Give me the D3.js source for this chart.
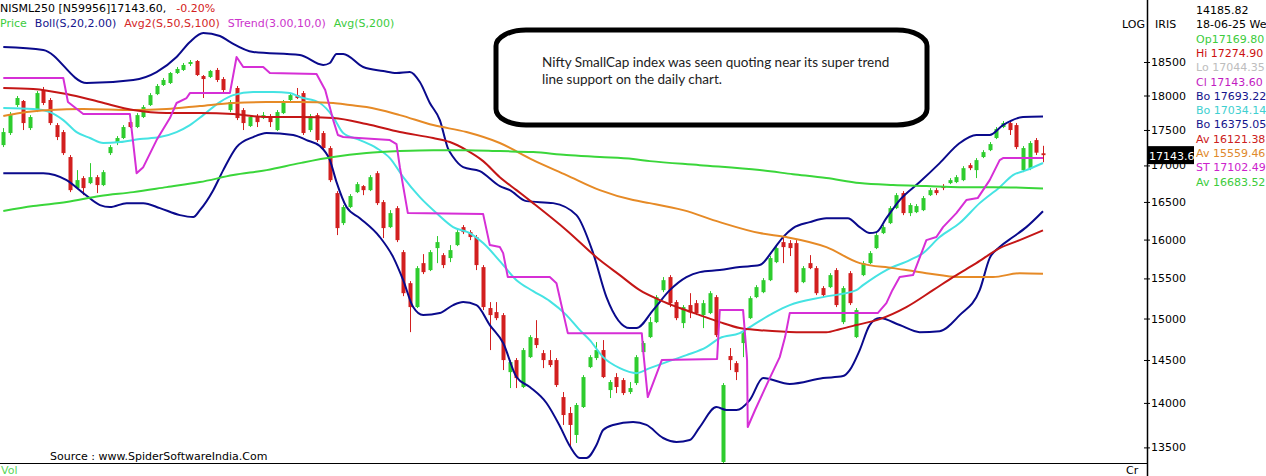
<!DOCTYPE html>
<html>
<head>
<meta charset="utf-8">
<script src="https://cdn.jsdelivr.net/npm/d3@7"></script>
<style>
  body { margin: 0; background: #fff; overflow: hidden; }
  svg { display: block; font-family: "DejaVu Sans", sans-serif; font-size: 11px; }
</style>
</head>
<body>
<svg id="chart" width="1266" height="476"></svg>
<script>
// Daily OHLC bars, NISML250
const opens = [17285,17456,17860,17919,17527,17787,18081,17934,17570,17470,17117,16688,16825,16756,16838,16729,17172,17314,17385,17613,
  17542,17686,17860,18021,18155,18185,18334,18380,18470,18515,18289,18274,18380,18244,17787,18111,17787,17556,17700,17671,
  17700,17499,17743,17934,18006,18036,17499,17714,17456,17243,16620,16217,16431,16633,16715,16660,16893,16498,16164,16417,
  15837,15440,15141,15695,15606,15889,15798,15760,15928,16164,16098,16033,15644,15129,15079,15042,14357,14499,14183,14534,
  14762,14582,14499,14499,14067,13885,13638,13953,14416,14523,14618,14148,14299,14264,14125,14229,14594,14774,14956,15352,
  15517,15203,14944,15166,15190,15042,15067,15265,13340,14547,14463,14702,15005,15265,15327,15478,15708,15967,15954,15954,
  15453,15695,15631,15378,15390,15606,14956,15567,14774,15542,15695,15889,16085,16217,16417,16620,16350,16363,16390,16592,
  16660,16715,16756,16770,16797,17004,16935,17117,17214,17385,17542,17599,17570,16935,16962,17356,17169.80];
const highs = [17527,17758,17993,17934,17714,18066,18126,17963,17599,17499,17145,16935,16852,17032,16866,16935,17285,17413,17570,17628,
  17743,17860,18036,18170,18260,18349,18425,18485,18530,18530,18304,18380,18410,18274,17934,18141,17816,17714,17729,17758,
  17729,17787,17934,18036,18111,18066,17729,17743,17485,17271,16647,16458,16606,16770,16729,16866,16921,16525,16390,16444,
  15863,15466,15657,15811,15863,16046,15824,15928,16124,16191,16124,16059,15670,15203,15203,15067,14499,14523,14642,14798,
  14980,14618,14618,14523,14125,13953,13999,14322,14558,14714,14738,14264,14345,14287,14241,14558,14726,15018,15290,15517,
  15542,15228,15166,15314,15228,15228,15340,15290,14229,14642,14487,14846,15277,15415,15504,15786,15915,16020,15993,15993,
  15657,15798,15657,15403,15567,15631,15403,15593,15129,15721,15850,16085,16191,16444,16620,16647,16484,16471,16580,16688,
  16688,16742,16825,16866,16990,17032,17102,17214,17328,17542,17628,17628,17599,17271,17342,17385,17274.90];
const lows = [17257,17428,17831,17499,17499,17758,17860,17570,17356,17145,16633,16674,16592,16742,16620,16715,17145,17285,17370,17528,
  17527,17671,17846,18006,18141,18170,18319,18365,18440,18289,17963,18259,18199,18051,17758,17642,17499,17542,17542,17657,
  17542,17485,17729,17919,17948,17428,17470,17328,17214,16770,16059,16191,16417,16620,16592,16647,16458,16020,16151,15967,
  15277,14834,15129,15555,15593,15695,15631,15708,15915,16072,15993,15606,15104,14618,14980,14381,14171,14171,14171,14523,
  14642,14404,14416,14183,13750,13504,13549,13942,14404,14499,14287,14056,14113,14090,14102,14206,14570,14762,14944,15327,
  15141,14980,14883,15005,15042,14883,15054,14774,13329,14381,14264,14534,14993,15252,15314,15466,15695,15695,15786,15314,
  15440,15618,15290,15265,15378,15141,14932,15166,14762,15529,15682,15876,16072,16204,16404,16323,16310,16350,16377,16580,
  16592,16660,16742,16756,16783,16935,16825,17102,17200,17370,17527,17428,17228,16907,16935,17145,17044.35];
const closes = [17470,17714,17963,17599,17686,18036,17890,17599,17399,17172,16660,16797,16688,16838,16729,16907,17257,17385,17542,17542,
  17714,17831,18006,18141,18230,18334,18395,18455,18500,18304,18244,18365,18230,18081,17904,17671,17599,17686,17613,17714,
  17613,17758,17904,18006,17963,17456,17700,17356,17243,16797,16151,16431,16580,16742,16660,16838,16484,16151,16350,15993,
  15314,15141,15631,15580,15837,15967,15670,15863,16098,16098,16033,15670,15141,15042,15005,14499,14475,14287,14618,14774,
  14678,14499,14440,14206,13862,13750,13976,14299,14534,14618,14299,14241,14183,14113,14171,14534,14702,14956,15265,15478,
  15190,15005,15141,15079,15067,15190,15314,14798,14206,14499,14357,14822,15252,15390,15478,15760,15889,15902,15889,15327,
  15631,15631,15314,15290,15542,15166,15378,15190,15104,15695,15824,16059,16164,16417,16592,16350,16458,16444,16552,16660,
  16620,16688,16797,16838,16962,16962,17074,17186,17299,17513,17599,17499,17257,17243,17314,17178,17143.60];

// Indicator readings as [bar, value]
const bollUpper = [[0,18730],[6,18683],[12.5,18184],[19.5,18230],[23,18349],[26,18576],[28,18806],[30,18944],[32.5,18898],[34,18806],
  [37.5,18652],[44.5,18606],[48,18455],[49,18485],[50,18622],[51,18622],[54,18425],[57,18365],[59,18334],[61,18349],
  [62.5,18199],[64,17890],[65.5,17642],[66.7,17243],[67.5,17117],[69,16976],[71.5,16921],[74.5,16715],[76,16660],[78.5,16511],
  [82.5,16484],[86,16323],[88.5,15824],[90.5,15265],[94,14883],[95,14883],[97.5,15104],[100,15352],[102.5,15517],[104.5,15580],
  [107.5,15606],[110.5,15644],[113.5,15670],[115.5,15863],[117,16033],[118.5,16151],[121,16230],[123.5,16283],[126.7,16283],[128.5,16164],
  [130,16085],[131,16098],[132.5,16283],[134.5,16525],[137.5,16770],[140.5,17032],[143.5,17314],[146,17428],[148,17428],[150,17570],
  [153,17686],[156,17693.22]];
const bollMid = [[0,17816],[4.5,17802],[7,17758],[9,17642],[11,17470],[13,17385],[15,17314],[17.5,17328],[20.5,17370],[23.5,17399],
  [26,17470],[28,17570],[30,17714],[32.5,17904],[34.5,18006],[37.5,18051],[40.5,18051],[43,18036],[44.5,17978],[47.5,17890],
  [49.5,17686],[51,17456],[53.5,17356],[56,17243],[58,17102],[60,16838],[62.5,16565],[65,16350],[67.5,16164],[70,16085],
  [72,15954],[74.5,15721],[77,15478],[79.5,15340],[82,15215],[84.5,15042],[86.5,14858],[88,14738],[90,14534],[92.5,14404],
  [95,14345],[97,14404],[99.5,14475],[102.5,14558],[105.5,14654],[107.5,14762],[110.5,14822],[112.5,14920],[115.5,15067],[118,15166],
  [123,15265],[128,15352],[129,15415],[132.5,15606],[136,15734],[138,15824],[140.5,16033],[143.5,16217],[146.5,16484],[149.5,16701],
  [151.5,16866],[153.5,16935],[156,17034.14]];
const bollLower = [[0,16893],[6,16893],[9.5,16797],[12,16620],[14.5,16458],[16,16431],[18.5,16484],[21,16484],[23.5,16417],[26.5,16323],
  [28.5,16297],[29.5,16390],[31.5,16660],[33,16935],[35,17257],[37.5,17399],[39.5,17456],[43.5,17428],[45.5,17356],[47.5,17271],
  [49,17074],[50,16770],[51.5,16431],[53.5,16283],[56.5,16033],[58.5,15772],[60,15478],[61.5,15141],[63,15042],[65.5,15067],
  [67.5,15166],[69,15203],[71,15166],[73,14920],[75,14702],[77,14299],[79,14183],[81.5,13999],[83.5,13738],[85,13515],
  [86.5,13384],[87.5,13384],[89,13526],[90,13693],[91.5,13750],[94.5,13783],[96.5,13750],[99,13604],[101,13560],[103,13582],
  [104.5,13727],[107,13953],[108.5,13919],[110,13919],[112,14033],[114,14287],[118,14218],[123,14287],[126,14311],[127,14381],
  [128.5,14618],[130,14920],[131.5,15005],[134.5,14920],[137.5,14834],[140.5,14846],[143.5,15042],[146.5,15352],[148,15760],[149.5,15902],
  [151.5,16033],[153.5,16164],[156,16375.05]];
const avg50 = [[0,18111],[4.5,18096],[9.5,18021],[14.5,17904],[19.5,17787],[24.5,17743],[29.5,17743],[34.5,17729],[39.5,17686],[44.5,17686],
  [49.5,17671],[54.5,17585],[59.5,17470],[64.5,17385],[67,17328],[69.5,17214],[72,17060],[74.5,16838],[77,16660],[79.5,16484],
  [84.5,16124],[89.5,15734],[92.5,15542],[95.5,15352],[98.5,15228],[101.5,15129],[104.5,15042],[107.5,14956],[110.5,14883],[113.5,14858],
  [119,14834],[123.5,14834],[125.5,14870],[128,14920],[131.5,14993],[135.5,15141],[139.5,15352],[142.5,15517],[146,15695],[149.5,15889],
  [152.5,15993],[156,16121.38]];
const avg100 = [[0,17700],[2.5,17743],[7,17787],[12,17802],[19.5,17787],[24.5,17802],[29.5,17846],[34.5,17890],[39.5,17904],[44.5,17904],
  [49.5,17890],[52,17860],[54.5,17831],[59.5,17714],[64.5,17570],[69.5,17470],[74.5,17314],[79.5,17074],[84.5,16866],[89.5,16660],
  [94.5,16525],[97,16484],[102,16390],[107.5,16230],[113.5,16085],[117.5,16033],[123.5,15902],[128.5,15695],[133.5,15631],[138.5,15567],
  [143.5,15517],[148.5,15517],[152.5,15567],[156,15559.46]];
const sTrend = [[0,18260],[9,18260],[9.7,17904],[12,17729],[19,17729],[20,16893],[21,16976],[23,17356],[25,17671],[26,17890],
  [27.5,17963],[28,18036],[34,18036],[35,18576],[36,18425],[39,18425],[40,18334],[47,18319],[48.3,18081],[49.5,17642],
  [50.2,17428],[51,17399],[58,17356],[59,17299],[59.5,16976],[60.7,16350],[72,16337],[73,15928],[74.5,15902],[75,15824],
  [75.7,15517],[82,15517],[83,15440],[84.7,14822],[95.8,14822],[96,14618],[96.7,14067],[98.8,14499],[107.1,14511],[107.5,15104],
  [111,15104],[111.6,14499],[111.7,13727],[112.8,13919],[115,14287],[116.5,14534],[117.3,14774],[118,15067],[131.2,15067],[132.5,15190],
  [133.4,15352],[134.5,15517],[136.5,15542],[138.5,15993],[140,16033],[141,16164],[143,16350],[144.5,16525],[146.2,16552],[148,16797],
  [149.5,17074],[150,17102.49],[156,17102.49]];
const avg200 = [[0,16377],[4.5,16444],[9.5,16498],[14.5,16580],[19.5,16633],[24.5,16701],[29.5,16770],[34.5,16866],[39.5,16935],[44.5,17032],
  [49.5,17117],[54.5,17172],[59.5,17200],[64.5,17214],[69.5,17214],[74.5,17200],[79.5,17186],[84.5,17145],[89.5,17117],[94.5,17088],
  [97,17060],[104.5,17004],[113.5,16935],[118.5,16879],[123.5,16825],[128.5,16756],[133.5,16729],[138.5,16715],[143.5,16701],[148.5,16701],
  [156,16683.52]];

const priceTicks = [13500,14000,14500,15000,15500,16000,16500,17000,17500,18000,18500];
const noteLines = ["Nifty SmallCap index was seen quoting near its super trend", "line support on the daily chart."];

const C = {
  up: "#2ecc2e", down: "#d21f1f", navy: "#0a0a8c", cyan: "#45e3e3",
  avg50: "#c41616", avg100: "#e68a26", avg200: "#3ad63a", strend: "#d62fd6"
};

const svg = d3.select("#chart");
const last = opens.length - 1;
const x = d3.scaleLinear().domain([0, last]).range([3.3, 1043]);
const y = d3.scaleLog().domain([13500, 18500]).range([447.4, 62]);
const axisX = 1147, baseY = 463;

svg.append("defs").append("clipPath").attr("id", "plot")
  .append("rect").attr("x", 0).attr("y", 0).attr("width", axisX - 1).attr("height", baseY);

const plot = svg.append("g").attr("clip-path", "url(#plot)");

// candlesticks
const bars = plot.append("g").selectAll("g").data(d3.range(opens.length)).join("g")
  .attr("fill", i => closes[i] >= opens[i] ? C.up : C.down)
  .attr("stroke", i => closes[i] >= opens[i] ? C.up : C.down);
bars.append("line")
  .attr("x1", i => Math.round(x(i)) + 0.5).attr("x2", i => Math.round(x(i)) + 0.5)
  .attr("y1", i => y(highs[i])).attr("y2", i => y(lows[i]))
  .attr("stroke-width", 1);
bars.append("rect")
  .attr("x", i => Math.round(x(i)) - 1.5)
  .attr("width", 4)
  .attr("y", i => y(Math.max(opens[i], closes[i])))
  .attr("height", i => Math.max(1.5, Math.abs(y(opens[i]) - y(closes[i]))))
  .attr("stroke", "none");

// indicator lines
const smooth = d3.line().x(d => x(d[0])).y(d => y(d[1])).curve(d3.curveMonotoneX);
const straight = d3.line().x(d => x(d[0])).y(d => y(d[1]));
const series = [
  [bollUpper, C.navy, smooth], [bollLower, C.navy, smooth], [bollMid, C.cyan, smooth],
  [avg100, C.avg100, smooth], [avg50, C.avg50, smooth], [avg200, C.avg200, smooth],
  [sTrend, C.strend, straight]
];
series.forEach(([pts, col, gen]) => {
  plot.append("path").attr("d", gen(pts)).attr("fill", "none")
    .attr("stroke", col).attr("stroke-width", 2).attr("stroke-linejoin", "round");
});

// price axis
svg.append("line").attr("x1", axisX + 0.5).attr("x2", axisX + 0.5).attr("y1", 0).attr("y2", 476)
  .attr("stroke", "#000").attr("stroke-width", 1.5);
const ax = svg.append("g").attr("transform", `translate(${axisX},0)`)
  .call(d3.axisRight(y).tickValues(priceTicks).tickFormat(d3.format("d")).tickSize(3).tickPadding(1));
ax.select(".domain").remove();
ax.selectAll(".tick line").attr("x1", -3).attr("x2", 3).attr("stroke", "#000");
ax.selectAll(".tick text").style("font-family", "DejaVu Sans").style("font-size", "11px").attr("fill", "#000");

// bottom border and captions
svg.append("line").attr("x1", 0).attr("x2", axisX).attr("y1", baseY + 0.5).attr("y2", baseY + 0.5)
  .attr("stroke", "#000").attr("stroke-width", 1.2);
svg.append("text").attr("x", 1).attr("y", 474).attr("fill", "#5ad65a").text("Vol");
svg.append("text").attr("x", 1126).attr("y", 474).attr("fill", "#000").text("Cr");
svg.append("text").attr("x", 50).attr("y", 460).attr("fill", "#000").text("Source : www.SpiderSoftwareIndia.Com");

// last price tag
const lastClose = closes[last];
svg.append("rect").attr("x", axisX + 1).attr("y", y(lastClose) - 9).attr("width", 46).attr("height", 18).attr("fill", "#000");
svg.append("text").attr("x", axisX + 2).attr("y", y(lastClose) + 4.5).attr("fill", "#fff").style("font-size", "11px")
  .text(lastClose.toFixed(1));

// header legend
const pct = (lastClose / closes[last - 1] - 1) * 100;
const h1 = svg.append("text").attr("x", 0).attr("y", 12);
h1.append("tspan").attr("fill", "#000").text(`NISML250 [N59956]${lastClose.toFixed(2)},`);
h1.append("tspan").attr("fill", "#d42020").attr("dx", 10).text(`${pct.toFixed(2)}%`);
const h2 = svg.append("text").attr("x", 0).attr("y", 27);
[["Price", "#3ccc3c"], ["Boll(S,20,2.00)", "#14148c"], ["Avg2(S,50,S,100)", "#d42828"],
 ["STrend(3.00,10,0)", "#cc33cc"], ["Avg(S,200)", "#3ccc3c"]].forEach(([t, c], k) => {
  h2.append("tspan").attr("fill", c).attr("dx", k ? 8 : 0).text(t);
});

// info panel
svg.append("text").attr("x", 1122).attr("y", 28).attr("fill", "#000").text("LOG");
svg.append("text").attr("x", 1155).attr("y", 28).attr("fill", "#000").text("IRIS");
const lastOf = a => a[a.length - 1][1];
const info = [
  ["14185.82", "#000"], ["18-06-25 We", "#000"],
  ["Op" + opens[last].toFixed(2), "#3ccc3c"], ["Hi " + highs[last].toFixed(2), "#cc1010"],
  ["Lo " + lows[last].toFixed(2), "#bdbdbd"], ["Cl " + closes[last].toFixed(2), "#c21bc2"],
  ["Bo " + lastOf(bollUpper).toFixed(2), "#14148c"], ["Bo " + lastOf(bollMid).toFixed(2), "#3fd0d0"],
  ["Bo " + lastOf(bollLower).toFixed(2), "#14148c"], ["Av " + lastOf(avg50).toFixed(2), "#cc2020"],
  ["Av " + lastOf(avg100).toFixed(2), "#e0892a"], ["ST " + lastOf(sTrend).toFixed(2), "#cc22cc"],
  ["Av " + lastOf(avg200).toFixed(2), "#3ccc3c"]
];
svg.append("g").selectAll("text").data(info).join("text")
  .attr("x", 1196).attr("y", (d, k) => 14 + k * 14.3).attr("fill", d => d[1]).text(d => d[0]);

// comment box
svg.append("rect").attr("x", 496).attr("y", 30).attr("width", 431).attr("height", 95)
  .attr("rx", 30).attr("ry", 16).attr("fill", "#fff").attr("stroke", "#000").attr("stroke-width", 5);
svg.append("g").selectAll("text").data(noteLines).join("text")
  .attr("x", 542).attr("y", (d, k) => 67 + k * 17).attr("fill", "#222")
  .style("font-family", "Lato, sans-serif").style("font-size", "13.5px").text(d => d);
</script>
</body>
</html>
